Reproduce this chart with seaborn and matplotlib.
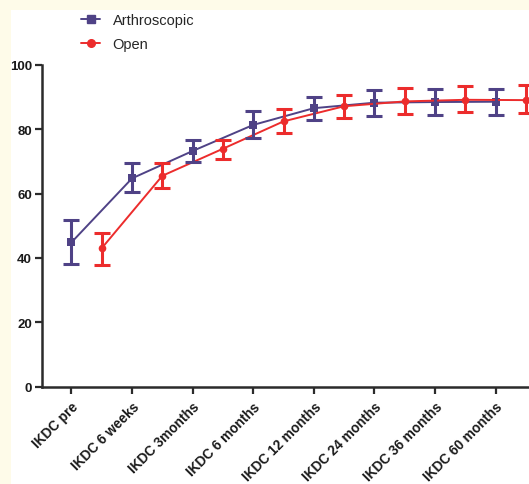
import matplotlib
matplotlib.use("Agg")
import matplotlib.pyplot as plt
import matplotlib.patches as mpatches
import seaborn as sns
import numpy as np
import pandas as pd

# values
labels = ["IKDC pre", "IKDC 6 weeks", "IKDC 3months", "IKDC 6 months",
          "IKDC 12 months", "IKDC 24 months", "IKDC 36 months", "IKDC 60 months"]
arthro_mean = [44.8, 64.7, 73.2, 81.3, 86.5, 88.2, 88.4, 88.5]
arthro_lo = [38.1, 60.6, 69.9, 77.1, 82.8, 84.2, 84.4, 84.3]
arthro_hi = [51.9, 69.4, 76.6, 85.7, 90.0, 92.0, 92.3, 92.5]
open_mean = [43.0, 65.5, 73.9, 82.4, 87.1, 88.6, 89.1, 89.0]
open_lo = [37.8, 61.7, 70.7, 78.8, 83.4, 84.7, 85.2, 85.0]
open_hi = [47.7, 69.4, 76.7, 86.2, 90.6, 92.7, 93.3, 93.6]

purple = "#4f4286"
red = "#ec2c2c"

sns.set_style("white")
plt.rcParams['font.family'] = ['Liberation Sans', 'DejaVu Sans']

df = pd.DataFrame({
    "x": list(np.arange(len(labels))) + list(np.arange(len(labels)) + 0.5),
    "y": arthro_mean + open_mean,
    "group": ["Arthroscopic"] * len(labels) + ["Open"] * len(labels),
})

fig = plt.figure(figsize=(5.29, 4.85), dpi=100)
fig.patch.set_facecolor("#fefbe9")
# white panel; the cream strip stays visible on the left and top
fig.patches.append(mpatches.Rectangle((11 / 529, 0), 1, 1 - 11 / 485,
                                      transform=fig.transFigure,
                                      facecolor="white", edgecolor="none", zorder=-5))

ax = fig.add_axes([41.7 / 529, 97.3 / 485, 1 - 41.7 / 529, 322 / 485])
ax.set_zorder(2)
ax.set_facecolor("none")

sns.lineplot(data=df, x="x", y="y", hue="group", style="group",
             markers={"Arthroscopic": "s", "Open": "o"}, dashes=False,
             palette={"Arthroscopic": purple, "Open": red},
             markersize=5.5, markeredgewidth=0, linewidth=1.4, ax=ax, legend=False,
             clip_on=False)

xa = np.arange(len(labels))
for xs, m, lo, hi, c in [(xa, arthro_mean, arthro_lo, arthro_hi, purple),
                         (xa + 0.5, open_mean, open_lo, open_hi, red)]:
    m = np.array(m)
    err = [m - np.array(lo), np.array(hi) - m]
    ax.errorbar(xs, m, yerr=err, fmt="none", ecolor=c, elinewidth=2.2,
                capsize=5.5, capthick=2.2, zorder=3)

ax.set_xlim(-0.49, 7.55)
ax.set_ylim(0, 100)
ax.set_yticks([0, 20, 40, 60, 80, 100])
ax.set_xticks(xa)
ax.set_xticklabels(labels, rotation=45, ha="right", rotation_mode="anchor",
                   fontweight="bold", fontsize=9.8)
for t in ax.get_yticklabels():
    t.set_fontweight("bold")
    t.set_fontsize(9.5)
ax.set_xlabel("")
ax.set_ylabel("")
for s in ["top", "right"]:
    ax.spines[s].set_visible(False)
for s in ["left", "bottom"]:
    ax.spines[s].set_linewidth(1.8)
    ax.spines[s].set_color("#2b2b2b")
ax.tick_params(axis="both", direction="out", length=5, width=1.6, color="#2b2b2b",
               pad=2, labelcolor="#1a1a1a", left=True, bottom=True)
ax.tick_params(axis="x", pad=4)

h1 = plt.Line2D([], [], color=purple, marker="s", markersize=5.5, linewidth=1.4)
h2 = plt.Line2D([], [], color=red, marker="o", markersize=5.5, linewidth=1.4)
fig.legend([h1, h2], ["Arthroscopic", "Open"], loc="upper left",
           bbox_to_anchor=(68 / 529, 1 - 1 / 485), frameon=False, fontsize=10.5,
           handlelength=1.3, handletextpad=0.85, labelspacing=0.7)

fig.savefig("out.png", dpi=100, facecolor=fig.get_facecolor())
